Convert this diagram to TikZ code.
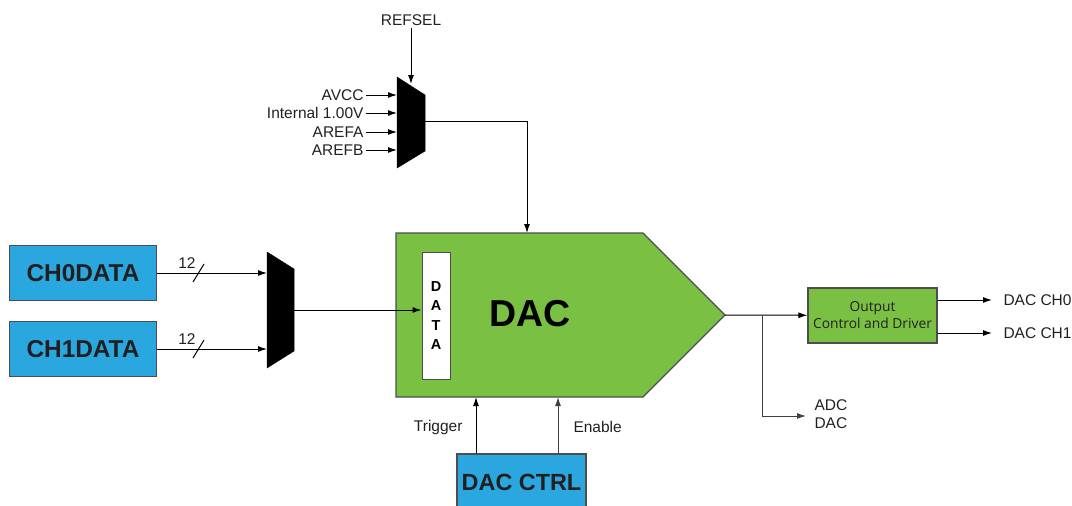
\documentclass[tikz,border=0pt]{standalone}
\usepackage{fontspec}
\setmainfont{Liberation Sans}
\newfontfamily\drvfont{Open Sans}
\usetikzlibrary{positioning,arrows.meta}
\definecolor{dacgreen}{HTML}{7AC143}
\definecolor{regblue}{HTML}{2AA7DF}
\definecolor{edgegray}{HTML}{4D4D4D}
\definecolor{txtgray}{HTML}{231F20}

\begin{document}
\begin{tikzpicture}[x=1pt,y=-1pt,>={Latex[length=9pt,width=6pt]},line width=1pt,
    lbl/.style={inner sep=2pt,text=txtgray,font=\fontsize{15.5}{17}\selectfont},
    reg/.style={draw=edgegray,line width=1.2pt,fill=regblue,minimum width=147pt,minimum height=55pt,text=txtgray,font=\fontsize{24.4}{26}\selectfont\bfseries},
    mux/.style={fill=black,draw=black,line width=0.5pt}]

            \useasboundingbox (0,0) rectangle (1072,506);

            % reference selection
            \node[lbl] (refsel) at (411,20) {REFSEL};
            \fill[mux] (397,77) -- (425,95) -- (425,151) -- (397,168) -- cycle;
            \coordinate (rsel) at (411,84);
            \coordinate (rout) at (425,121);
            \draw[->] (refsel) -- (rsel);
            \foreach \t/\y [count=\i] in {AVCC/95,Internal 1.00V/113,AREFA/132,AREFB/150}{
                \node[lbl,anchor=east] (ref\i) at (366,\y) {\t};
                \coordinate (rin\i) at (397,\y);
                \draw[->] (ref\i) -- (rin\i);
            }

            % DAC body
            \draw[draw=edgegray,line width=1.2pt,fill=dacgreen] (396,233) -- (643,233) -- (725,315) -- (643,397) -- (396,397) -- cycle;
            \coordinate (dactip) at (725,315);
            \coordinate (dacref) at (527,233);
            \node[font=\fontsize{37.5}{40}\selectfont\bfseries] (dac) at (530,314) {DAC};
            \node[draw=edgegray,fill=white,minimum width=28pt,minimum height=127pt,align=center,
                  font=\fontsize{14.5}{19.5}\selectfont\bfseries] (data) at (436,315.5) {D\\A\\T\\A};
            \draw[->] (rout) -| (dacref);

            % data registers and mux
            \node[reg] (ch0) at (83,273) {CH0DATA};
            \node[reg] (ch1) at (83,349) {CH1DATA};
            \fill[mux] (267,252) -- (294,269) -- (294,351) -- (267,368) -- cycle;
            \coordinate (din0) at (267,273);
            \coordinate (din1) at (267,349);
            \coordinate (dout) at (294,310);
            \draw[->] (ch0) -- (din0);
            \draw[->] (ch1) -- (din1);
            \foreach \y in {273,349}{
                \draw (193,\y+9) -- (204,\y-9);
                \node[lbl] at (187,\y-10) {12};
            }
            \draw[->] (dout) -- (dout -| data.west);

            % output stage
            \node[draw=edgegray,line width=1.2pt,fill=dacgreen,minimum width=129pt,minimum height=55pt,align=center,
                  font=\drvfont\fontsize{13.8}{17}\selectfont,text=txtgray] (drv) at (872.5,315.5) {Output\\Control and Driver};
            \draw[->] (dactip) -- (drv);
            \node[lbl,anchor=west] (out0) at (1001,300) {DAC CH0};
            \node[lbl,anchor=west] (out1) at (1001,333) {DAC CH1};
            \draw[->,shorten >=9pt] (drv.east |- out0) -- (out0);
            \draw[->,shorten >=9pt] (drv.east |- out1) -- (out1);
            \coordinate (br) at (762,315);
            \coordinate (adcin) at (806,416);
            \node[lbl,anchor=west,align=left,font=\fontsize{15.5}{18}\selectfont] (adc) at (812,414) {ADC\\DAC};
            \draw[->,draw=black!75] (br) |- (adcin);

            % control
            \node[reg,minimum width=129pt,minimum height=56pt,font=\fontsize{23.4}{26}\selectfont\bfseries] (ctrl) at (521.5,482) {DAC CTRL};
            \coordinate (trg) at (476,397);
            \coordinate (ena) at (558,397);
            \draw[->] (ctrl.north -| trg) -- (trg);
            \draw[->,draw=black!75] (ctrl.north -| ena) -- (ena);
            \node[lbl,anchor=east] (trglbl) at (465,427) {Trigger};
            \node[lbl,anchor=west] (enalbl) at (571,427) {Enable};

            ;
        \end{tikzpicture}
\end{document}
